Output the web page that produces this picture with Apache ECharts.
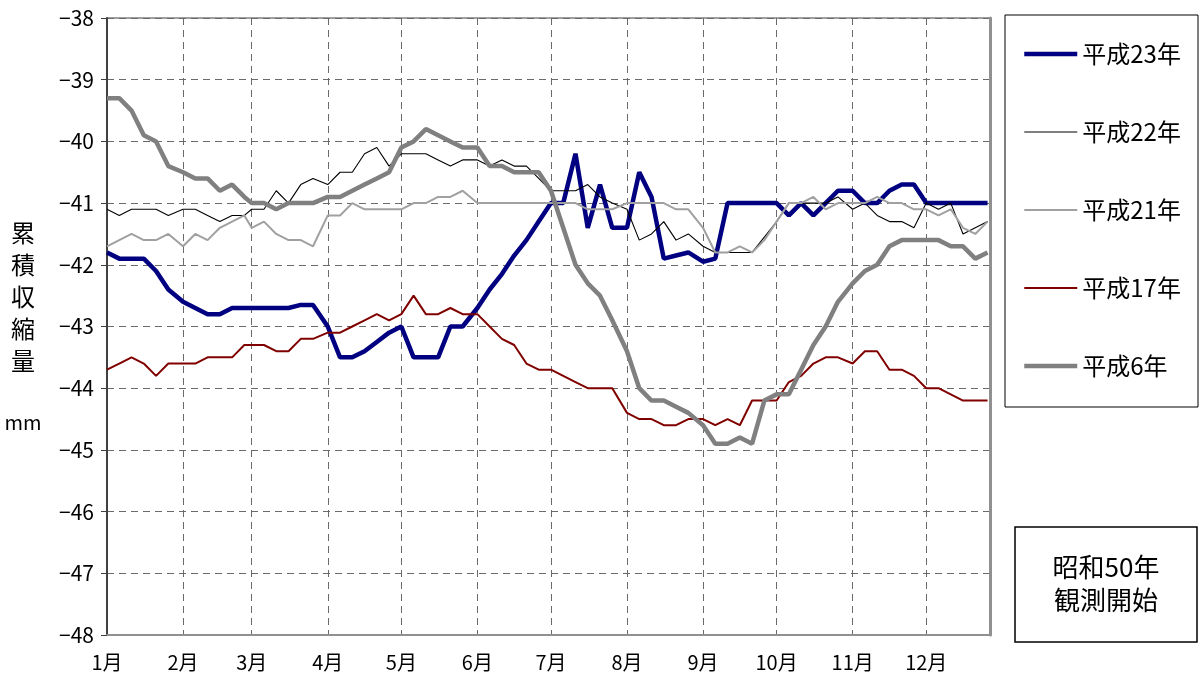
<!DOCTYPE html>
<html>
<head>
<meta charset="utf-8">
<script src="https://cdn.jsdelivr.net/npm/echarts@6/dist/echarts.min.js"></script>
<style>
  html, body { margin: 0; padding: 0; background: #fff; }
  #main { width: 1203px; height: 683px; }
</style>
</head>
<body>
<div id="main"></div>
<script>
// day of year where each month starts (x axis is a date axis)
const monthStart = [0, 31, 59, 90, 120, 151, 181, 212, 243, 273, 304, 334];
const monthLabels = ['1月', '2月', '3月', '4月', '5月', '6月', '7月', '8月', '9月', '10月', '11月', '12月'];

// 半旬値 (1,6,11,16,21,26日), 6 values per month
const h23 = [
  -41.8, -41.9, -41.9, -41.9, -42.1, -42.4,
  -42.6, -42.7, -42.8, -42.8, -42.7, -42.7,
  -42.7, -42.7, -42.7, -42.7, -42.65, -42.65,
  -43.0, -43.5, -43.5, -43.4, -43.25, -43.1,
  -43.0, -43.5, -43.5, -43.5, -43.0, -43.0,
  -42.7, -42.4, -42.15, -41.85, -41.6, -41.3,
  -41.0, -41.0, -40.2, -41.4, -40.7, -41.4,
  -41.4, -40.5, -40.9, -41.9, -41.85, -41.8,
  -41.95, -41.9, -41.0, -41.0, -41.0, -41.0,
  -41.0, -41.2, -41.0, -41.2, -41.0, -40.8,
  -40.8, -41.0, -41.0, -40.8, -40.7, -40.7,
  -41.0, -41.0, -41.0, -41.0, -41.0, -41.0
];
const h22 = [
  -41.1, -41.2, -41.1, -41.1, -41.1, -41.2,
  -41.1, -41.1, -41.2, -41.3, -41.2, -41.2,
  -41.1, -41.1, -40.8, -41.0, -40.7, -40.6,
  -40.7, -40.5, -40.5, -40.2, -40.1, -40.4,
  -40.2, -40.2, -40.2, -40.3, -40.4, -40.3,
  -40.3, -40.4, -40.3, -40.4, -40.4, -40.6,
  -40.8, -40.8, -40.8, -40.7, -40.9, -41.0,
  -41.1, -41.6, -41.5, -41.3, -41.6, -41.5,
  -41.7, -41.8, -41.8, -41.8, -41.8, -41.55,
  -41.3, -41.0, -41.0, -41.0, -41.0, -40.9,
  -41.1, -41.0, -41.2, -41.3, -41.3, -41.4,
  -41.0, -41.1, -41.0, -41.5, -41.4, -41.3
];
const h21 = [
  -41.7, -41.6, -41.5, -41.6, -41.6, -41.5,
  -41.7, -41.5, -41.6, -41.4, -41.3, -41.2,
  -41.4, -41.3, -41.5, -41.6, -41.6, -41.7,
  -41.2, -41.2, -41.0, -41.1, -41.1, -41.1,
  -41.1, -41.0, -41.0, -40.9, -40.9, -40.8,
  -41.0, -41.0, -41.0, -41.0, -41.0, -41.0,
  -41.0, -41.0, -41.0, -41.1, -41.1, -41.1,
  -41.0, -41.0, -41.0, -41.0, -41.1, -41.1,
  -41.4, -41.8, -41.8, -41.7, -41.8, -41.6,
  -41.3, -41.0, -41.0, -40.9, -41.1, -41.0,
  -41.0, -41.0, -40.9, -41.0, -41.0, -41.1,
  -41.1, -41.2, -41.1, -41.4, -41.5, -41.3
];
const h17 = [
  -43.7, -43.6, -43.5, -43.6, -43.8, -43.6,
  -43.6, -43.6, -43.5, -43.5, -43.5, -43.3,
  -43.3, -43.3, -43.4, -43.4, -43.2, -43.2,
  -43.1, -43.1, -43.0, -42.9, -42.8, -42.9,
  -42.8, -42.5, -42.8, -42.8, -42.7, -42.8,
  -42.8, -43.0, -43.2, -43.3, -43.6, -43.7,
  -43.7, -43.8, -43.9, -44.0, -44.0, -44.0,
  -44.4, -44.5, -44.5, -44.6, -44.6, -44.5,
  -44.5, -44.6, -44.5, -44.6, -44.2, -44.2,
  -44.2, -43.9, -43.8, -43.6, -43.5, -43.5,
  -43.6, -43.4, -43.4, -43.7, -43.7, -43.8,
  -44.0, -44.0, -44.1, -44.2, -44.2, -44.2
];
const h06 = [
  -39.3, -39.3, -39.5, -39.9, -40.0, -40.4,
  -40.5, -40.6, -40.6, -40.8, -40.7, -40.9,
  -41.0, -41.0, -41.1, -41.0, -41.0, -41.0,
  -40.9, -40.9, -40.8, -40.7, -40.6, -40.5,
  -40.1, -40.0, -39.8, -39.9, -40.0, -40.1,
  -40.1, -40.4, -40.4, -40.5, -40.5, -40.5,
  -40.8, -41.4, -42.0, -42.3, -42.5, -42.9,
  -43.4, -44.0, -44.2, -44.2, -44.3, -44.4,
  -44.6, -44.9, -44.9, -44.8, -44.9, -44.2,
  -44.1, -44.1, -43.7, -43.3, -43.0, -42.6,
  -42.3, -42.1, -42.0, -41.7, -41.6, -41.6,
  -41.6, -41.6, -41.7, -41.7, -41.9, -41.8
];

const names = ['平成23年', '平成22年', '平成21年', '平成17年', '平成6年'];
const colors = ['#000080', '#000000', '#a0a0a0', '#800000', '#808080'];
const widths = [4.5, 1.1, 2, 2, 4.5];
const values = [h23, h22, h21, h17, h06];

const font = "'Noto Sans CJK JP', sans-serif";

// [day of year, value]
const toPoints = (vals) =>
  vals.map((v, i) => [monthStart[Math.floor(i / 6)] + (i % 6) * 5, v]);

const myChart = echarts.init(document.getElementById('main'));

const chartSeries = names.map((name, i) => ({
  name: name,
  type: 'line',
  symbol: 'none',
  data: toPoints(values[i]),
  color: colors[i],
  lineStyle: { color: colors[i], width: widths[i] },
}));

const option = {
  animation: false,
  textStyle: { fontFamily: font },
  grid: {
    left: 107, right: 213, top: 18, bottom: 48,
    show: true, borderColor: '#404040', borderWidth: 1,
  },
  legend: {
    data: names.map((name, i) => ({
      name: name,
      lineStyle: { color: colors[i], width: widths[i] },
    })),
    orient: 'vertical',
    left: 1017,
    top: 37,
    itemWidth: 53,
    itemHeight: 24,
    itemGap: 54,
    itemStyle: { opacity: 0 },
    textStyle: { fontFamily: font, fontSize: 24, color: '#000', lineHeight: 24 },
  },
  xAxis: {
    type: 'value',
    min: 0,
    max: 360,
    axisLine: { lineStyle: { color: '#909090', width: 2 } },
    axisTick: { show: false, customValues: monthStart },
    axisLabel: {
      customValues: monthStart,
      formatter: (v) => monthLabels[monthStart.indexOf(v)],
      fontSize: 20, color: '#000', margin: 17, fontFamily: font,
    },
    splitLine: { show: true, lineStyle: { color: '#6a6a6a', type: [7, 5], width: 1 } },
  },
  yAxis: [
    {
      type: 'value',
      min: -48,
      max: -38,
      interval: 1,
      axisLine: { show: true, lineStyle: { color: '#404040', width: 2 } },
      axisTick: { show: true, length: 6, lineStyle: { color: '#404040' } },
      axisLabel: {
        formatter: (v) => String(v).replace('-', '−'),
        fontSize: 21, color: '#000', margin: 13, fontFamily: font,
      },
      splitLine: { show: true, lineStyle: { color: '#6a6a6a', type: [7, 5], width: 1 } },
    },
    {
      type: 'value',
      position: 'right',
      min: -48,
      max: -38,
      interval: 1,
      axisLine: { show: true, lineStyle: { color: '#909090', width: 3 } },
      axisTick: { show: false },
      axisLabel: { show: false },
      splitLine: { show: false },
    },
  ],
  graphic: [
    {
      type: 'rect',
      shape: { x: 1005, y: 15, width: 193, height: 392 },
      style: { fill: 'none', stroke: '#000', lineWidth: 1 },
      silent: true,
    },
    {
      type: 'rect',
      shape: { x: 1015, y: 527, width: 182, height: 115 },
      style: { fill: 'none', stroke: '#000', lineWidth: 1.5 },
      silent: true,
    },
    {
      type: 'text',
      x: 1106, y: 584,
      style: {
        text: '昭和50年\n観測開始', fontFamily: font, fontSize: 26,
        lineHeight: 33, align: 'center', verticalAlign: 'middle', fill: '#000',
      },
    },
    {
      type: 'text',
      x: 23, y: 297,
      style: {
        text: '累\n積\n収\n縮\n量', fontFamily: font, fontSize: 24,
        lineHeight: 32, align: 'center', verticalAlign: 'middle', fill: '#000',
      },
    },
    {
      type: 'text',
      x: 23, y: 422,
      style: {
        text: 'mm', fontFamily: font, fontSize: 20,
        align: 'center', verticalAlign: 'middle', fill: '#000',
      },
    },
  ],
  series: chartSeries,
};

myChart.setOption(option);
</script>
</body>
</html>
